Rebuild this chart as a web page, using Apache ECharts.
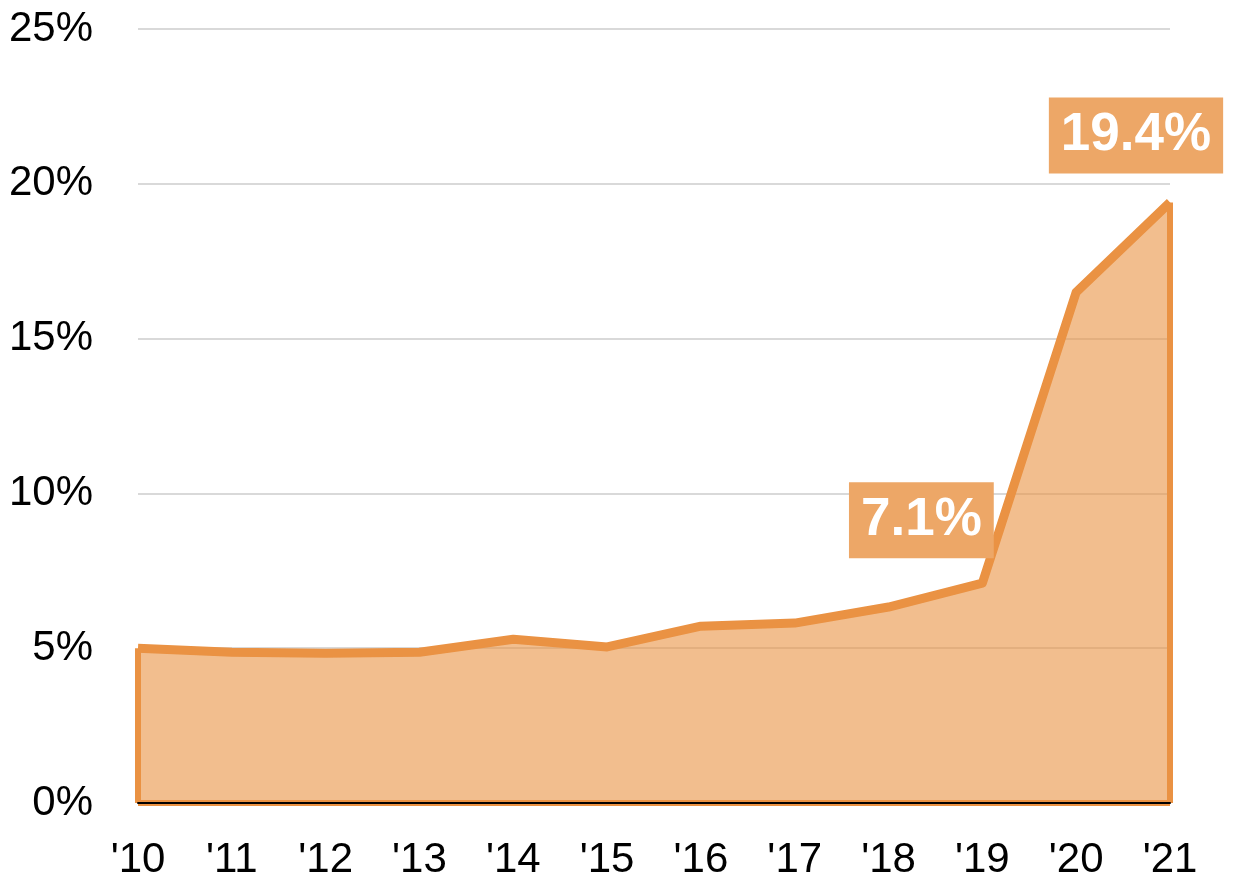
<!DOCTYPE html>
<html>
<head>
<meta charset="utf-8">
<script src="https://cdn.jsdelivr.net/npm/echarts@6/dist/echarts.min.js"></script>
<style>
  html, body { margin: 0; padding: 0; background: #fff; }
  #chart { width: 1234px; height: 882px; }
</style>
</head>
<body>
<div id="chart"></div>
<script>
const years = ["'10", "'11", "'12", "'13", "'14", "'15", "'16", "'17", "'18", "'19", "'20", "'21"];
const shares = [5.0, 4.87, 4.84, 4.87, 5.29, 5.04, 5.71, 5.81, 6.33, 7.1, 16.5, 19.4];
const yTicks = [0, 5, 10, 15, 20, 25];

const orange = '#ea9243';
const labelBg = '#eda767';
// narrow face isn't installed here, so the size is a compromise between width and height
const axisFont = "'Liberation Sans Narrow', 'Arial Narrow', 'Liberation Sans', sans-serif";

function boxLabel(offset) {
    return {
        show: true,
        position: 'inside',
        offset: offset,
        formatter: p => p.value.toFixed(1) + '%',
        color: '#fff',
        fontFamily: "'Liberation Sans', Arial, sans-serif",
        fontWeight: 'bold',
        fontSize: 53,
        lineHeight: 52,
        backgroundColor: labelBg,
        padding: [12, 12]
    };
}

const seriesData = shares.map((v, i) => {
    if (i === 9) return { value: v, label: boxLabel([-61, -63]) };
    if (i === 11) return { value: v, label: boxLabel([-34, -67]) };
    return v;
});

const last = years.length - 1;

const chart = echarts.init(document.getElementById('chart'));
let option = {
    animation: false,
    grid: { left: 138, right: 64, top: 29, bottom: 79 },
    xAxis: {
        type: 'category',
        data: years,
        boundaryGap: false,
        z: 5,
        axisLine: { lineStyle: { color: '#000', width: 2 } },
        axisTick: { show: false },
        axisLabel: { color: '#000', fontFamily: axisFont, fontSize: 42, margin: 36 },
        splitLine: { show: false }
    },
    yAxis: {
        type: 'value',
        min: yTicks[0],
        max: yTicks[yTicks.length - 1],
        interval: 5,
        axisLine: { show: false },
        axisTick: { show: false },
        axisLabel: { color: '#000', fontFamily: axisFont, fontSize: 42, margin: 45, formatter: '{value}%' },
        splitLine: { lineStyle: { color: '#d9d9d9', width: 2 } }
    },
    series: [
        {
            type: 'line',
            data: seriesData,
            symbol: 'circle',
            symbolSize: 1,
            itemStyle: { color: 'rgba(0,0,0,0)' },
            lineStyle: { color: orange, width: 9, join: 'round' },
            areaStyle: { color: orange, opacity: 0.6 },
            markLine: {
                silent: true,
                symbol: 'none',
                label: { show: false },
                lineStyle: { color: orange, width: 6, type: 'solid' },
                data: [
                    [{ coord: [years[0], 0] }, { coord: [years[0], shares[0]] }],
                    [{ coord: [years[last], 0] }, { coord: [years[last], shares[last]] }],
                    [{ coord: [years[0], 0] }, { coord: [years[last], 0] }]
                ]
            }
        }
    ]
};
chart.setOption(option);
</script>
</body>
</html>
